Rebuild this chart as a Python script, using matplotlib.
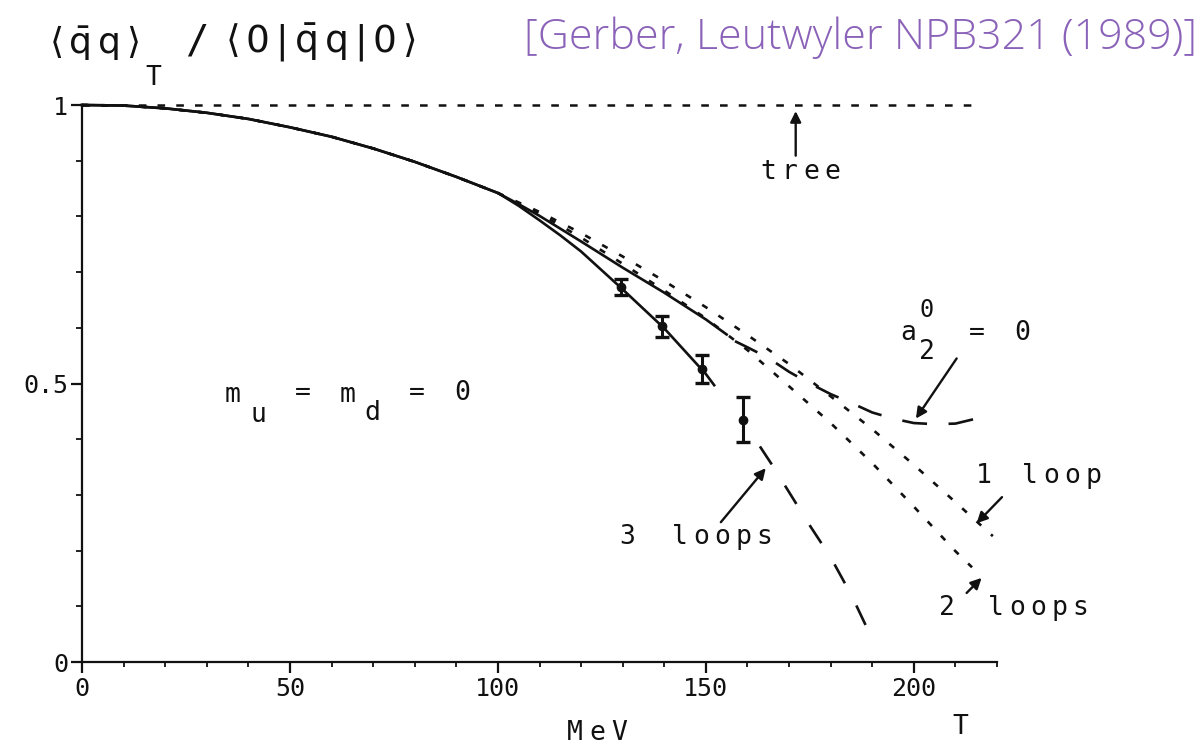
import numpy as np
import matplotlib.pyplot as plt
from matplotlib.ticker import MultipleLocator

plt.rcParams['lines.scale_dashes'] = False
plt.rcParams['mathtext.fontset'] = 'dejavusans'

# temperature (MeV) and <qq>_T / <0|qq|0>, read curve by curve
T_low = [0, 10, 20, 30, 40, 50, 60, 70, 80, 90, 100]
q_low = [1.000, 0.999, 0.994, 0.986, 0.975, 0.960, 0.943, 0.922, 0.898, 0.871, 0.842]

T_tree = [0, 215]
q_tree = [1.0, 1.0]

T_1loop = T_low + [110, 120, 130, 140, 150, 160, 170, 180, 190, 200, 210, 219]
q_1loop = q_low + [0.808, 0.770, 0.728, 0.684, 0.637, 0.587, 0.535, 0.477, 0.418, 0.354, 0.287, 0.226]

T_2loop = T_low + [110, 120, 130, 140, 150, 160, 170, 180, 190, 200, 210, 214]
q_2loop = q_low + [0.805, 0.762, 0.715, 0.667, 0.617, 0.560, 0.495, 0.429, 0.357, 0.279, 0.199, 0.170]

T_a2 = T_low + [105, 110, 120, 130, 140, 150, 155]
q_a2 = q_low + [0.822, 0.801, 0.755, 0.708, 0.663, 0.615, 0.588]
T_a2_ext = [157, 160, 165, 170, 175, 180, 185, 190, 195, 200, 205, 210, 215, 217]
q_a2_ext = [0.576, 0.565, 0.546, 0.521, 0.500, 0.481, 0.465, 0.448, 0.437, 0.429, 0.427, 0.428, 0.437, 0.443]

T_3loop = T_low + [105, 110, 115, 120, 130, 140, 150, 152]
q_3loop = q_low + [0.819, 0.793, 0.766, 0.737, 0.669, 0.599, 0.517, 0.497]
T_3loop_ext = [163, 166, 170, 175, 180, 185, 189]
q_3loop_ext = [0.387, 0.353, 0.305, 0.245, 0.188, 0.120, 0.057]

T_pts = [129.5, 139.5, 149, 159]
q_pts = [0.673, 0.603, 0.526, 0.435]
q_err = [0.015, 0.019, 0.025, 0.040]

W, H = 1203, 747
fig = plt.figure(figsize=(W / 100, H / 100), dpi=100)
ax = fig.add_axes([82 / W, 1 - 662 / H, (997 - 82) / W, (662 - 105) / H])

k = '#111111'
ax.plot(T_tree, q_tree, color=k, lw=1.8, dashes=(5.5, 8), clip_on=False)
ax.plot(T_1loop, q_1loop, color=k, lw=1.9, dashes=(4.5, 9.5), clip_on=False)
ax.plot(T_2loop, q_2loop, color=k, lw=1.9, dashes=(4.5, 9.5), clip_on=False)
ax.plot(T_a2, q_a2, color=k, lw=1.9, clip_on=False)
ax.plot(T_a2_ext, q_a2_ext, color=k, lw=1.9, dashes=(18, 15.5), clip_on=False)
ax.plot(T_3loop, q_3loop, color=k, lw=1.9, clip_on=False)
ax.plot(T_3loop_ext, q_3loop_ext, color=k, lw=1.9, dashes=(15.5, 18), clip_on=False)
ax.errorbar(T_pts, q_pts, yerr=q_err, fmt='o', ms=6, color=k,
            elinewidth=2.2, capsize=4.8, capthick=2.4)

ax.set_xlim(0, 220)
ax.set_ylim(0, 1)
for s in ['top', 'right']:
    ax.spines[s].set_visible(False)
for s in ['left', 'bottom']:
    ax.spines[s].set_linewidth(1.6)
    ax.spines[s].set_color(k)

ax.set_xticks([0, 50, 100, 150, 200])
ax.xaxis.set_minor_locator(MultipleLocator(10))
ax.set_yticks([0, 0.5, 1])
ax.set_yticklabels(['0', '0.5', '1'])
ax.yaxis.set_minor_locator(MultipleLocator(0.1))
ax.tick_params(axis='x', which='major', direction='out', length=8, width=1.6, pad=3, colors=k)
ax.tick_params(axis='x', which='minor', direction='out', length=3.5, width=1.3, colors=k)
ax.tick_params(axis='y', which='major', direction='out', length=8, width=1.6, pad=2, colors=k)
ax.tick_params(axis='y', which='minor', direction='out', length=4.5, width=1.3, colors=k)
for lab in ax.get_xticklabels() + ax.get_yticklabels():
    lab.set_family('DejaVu Sans Mono')
    lab.set_fontsize(18)


def put(x, y, s, size=19, **kw):
    fig.text(x / W, 1 - y / H, s, ha='center', va='center',
             family='DejaVu Sans Mono', size=size, color=k, **kw)


def spaced(x0, y, s, pitch=21, size=19):
    for i, c in enumerate(s):
        put(x0 + i * pitch, y, c, size=size)


# axis titles
spaced(575, 733, 'MeV', pitch=22)
put(960, 727, 'T')
put(94, 43, r'$\langle\,\bar{\mathrm{q}}\,\mathrm{q}\,\rangle$', size=26)
put(153, 78, 'T')
put(197, 42, '/', size=28)
put(321, 43, r'$\langle\,\mathrm{0}\,|\,\bar{\mathrm{q}}\,\mathrm{q}\,|\,\mathrm{0}\,\rangle$', size=27)

fig.text(1197 / W, 1 - 38 / H, '[Gerber, Leutwyler NPB321 (1989)]', ha='right', va='center',
         family='Open Sans', weight='light', size=31, color='#8a62b8')

# curve labels and arrows
arrow = dict(arrowstyle='-|>', color=k, lw=1.7, mutation_scale=16, shrinkA=0, shrinkB=0)
spaced(768, 172, 'tree', pitch=21.5)
ax.annotate('', xy=(171.6, 0.989), xytext=(171.6, 0.909), arrowprops=arrow, annotation_clip=False)

put(908, 333, 'a')
put(927, 310, '0', size=17)
put(927, 352, '2')
put(977, 333, '=')
put(1022, 333, '0')
ax.annotate('', xy=(200.5, 0.437), xytext=(210.3, 0.545), arrowprops=arrow, annotation_clip=False)

put(984, 476, '1')
spaced(1030, 476, 'loop')
ax.annotate('', xy=(215.1, 0.249), xytext=(221.2, 0.296), arrowprops=arrow, annotation_clip=False)

put(947, 608, '2')
spaced(996, 608, 'loops')
ax.annotate('', xy=(216.3, 0.151), xytext=(212.7, 0.124), arrowprops=arrow, annotation_clip=False)

put(627, 537, '3')
spaced(680, 537, 'loops')
ax.annotate('', xy=(164.4, 0.348), xytext=(153.6, 0.251), arrowprops=arrow, annotation_clip=False)

put(233, 395, 'm')
put(258, 415, 'u')
put(303, 393, '=')
put(348, 395, 'm')
put(372, 413, 'd')
put(417, 393, '=')
put(462, 393, '0')

fig.savefig('out.png', dpi=100)
